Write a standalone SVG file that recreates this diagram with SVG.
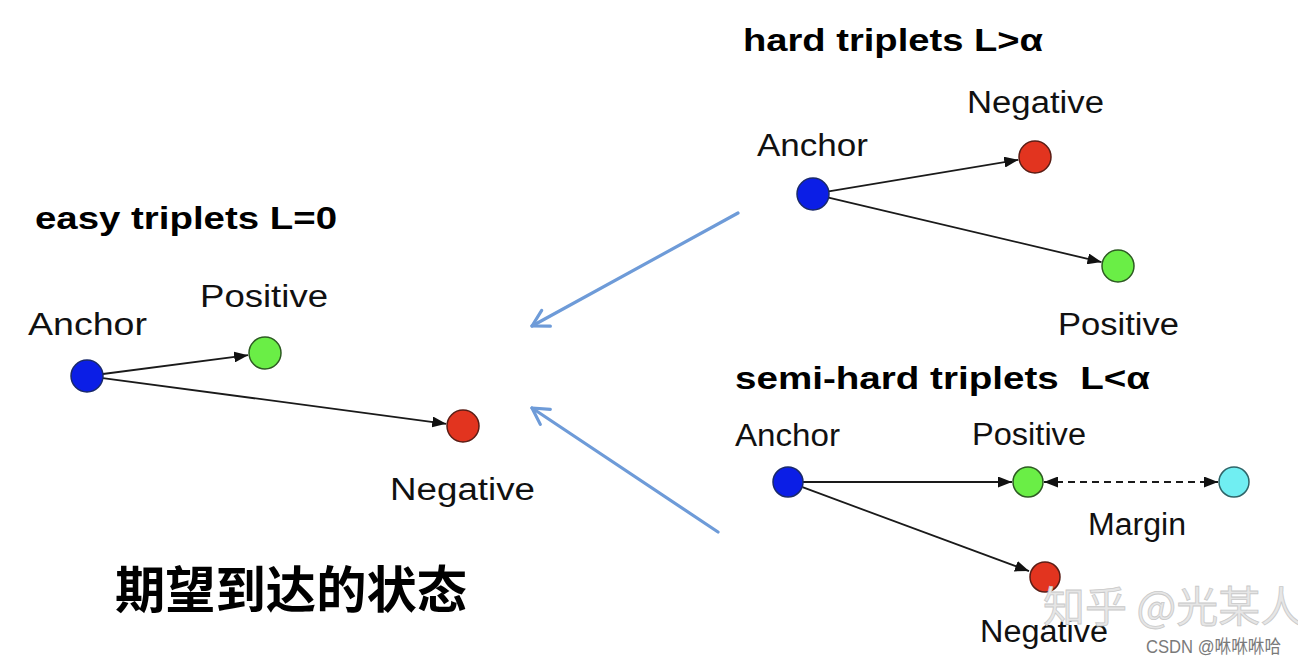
<svg xmlns="http://www.w3.org/2000/svg" width="1298" height="666" viewBox="0 0 1298 666">
  <style>
    .title { font-family: "Liberation Sans", Arial, sans-serif; font-weight: bold; font-size: 31px; fill: #000; }
    .lbl { font-family: "Liberation Sans", Arial, sans-serif; font-size: 31px; fill: #111; }
    .edge { stroke: #1a1a1a; stroke-width: 1.8; fill: none; marker-end: url(#ah); }
    .dash { stroke: #1a1a1a; stroke-width: 1.8; fill: none; stroke-dasharray: 7 5; marker-start: url(#ah); marker-end: url(#ah); }
    .flow { stroke: #6e9bd8; stroke-width: 3.2; fill: none; stroke-linecap: round; marker-end: url(#open); }
    .anchor { fill: #0b1ee6; stroke: #1a2a6a; stroke-width: 1.5; }
    .pos { fill: #6aee46; stroke: #2d5a22; stroke-width: 1.5; }
    .neg { fill: #e2341f; stroke: #5a1d15; stroke-width: 1.5; }
    .mar { fill: #70eef2; stroke: #2f6468; stroke-width: 1.5; }
    .cjk { font-family: "Noto Sans CJK SC", "Noto Sans", sans-serif; font-weight: bold; font-size: 50px; fill: #000; }
    .wm { font-family: "Noto Sans CJK SC", sans-serif; font-size: 42px; fill: #e6e6e6; stroke: #c9c9c9; stroke-width: 0.8; }
    .csdn { font-family: "Liberation Sans", "Noto Sans CJK SC", sans-serif; font-size: 18px; fill: #7a7a7a; }
  </style>
  <defs>
    <marker id="ah" markerUnits="userSpaceOnUse" markerWidth="15" markerHeight="11" refX="14" refY="5.5" orient="auto-start-reverse">
      <path d="M0,0 L14,5.5 L0,11 z" fill="#111"/>
    </marker>
    <marker id="open" markerUnits="userSpaceOnUse" markerWidth="24" markerHeight="24" refX="19" refY="11" orient="auto" overflow="visible">
      <path d="M3,2 L19,11 L3,20" fill="none" stroke="#6e9bd8" stroke-width="3.2" stroke-linecap="round" stroke-linejoin="round"/>
    </marker>
  </defs>
  <rect width="1298" height="666" fill="#ffffff"/>

  <g id="connectors">
    <line class="edge" x1="102.9" y1="374" x2="248.1" y2="355.2"/>
    <line class="edge" x1="102.9" y1="378.1" x2="446.2" y2="423.8"/>
    <line class="edge" x1="828.8" y1="191.4" x2="1018.2" y2="159.8"/>
    <line class="edge" x1="828.6" y1="197.7" x2="1101.5" y2="262.1"/>
    <line class="edge" x1="803" y1="482" x2="1012" y2="482"/>
    <line class="edge" x1="802.5" y1="487.2" x2="1029" y2="571.1"/>
    <line class="dash" x1="1044" y1="482" x2="1218" y2="482"/>
    <line class="flow" x1="738" y1="213" x2="532" y2="326"/>
    <line class="flow" x1="718" y1="532" x2="532" y2="408"/>
  </g>

  <g id="easy-title"><text class="title" x="35" y="229" textLength="302" lengthAdjust="spacingAndGlyphs">easy triplets L=0</text></g>
  <g id="easy-anchor">
    <circle class="anchor" cx="87" cy="376" r="16"/>
    <text class="lbl" x="28" y="335" font-size="32" textLength="119" lengthAdjust="spacingAndGlyphs">Anchor</text>
  </g>
  <g id="easy-positive">
    <circle class="pos" cx="265" cy="353" r="16"/>
    <text class="lbl" x="200" y="307" font-size="32" textLength="128" lengthAdjust="spacingAndGlyphs">Positive</text>
  </g>
  <g id="easy-negative">
    <circle class="neg" cx="463" cy="426" r="16"/>
    <text class="lbl" x="390" y="500" font-size="32" textLength="145" lengthAdjust="spacingAndGlyphs">Negative</text>
  </g>

  <g id="hard-title"><text class="title" x="743" y="51" textLength="300" lengthAdjust="spacingAndGlyphs">hard triplets L&gt;α</text></g>
  <g id="hard-anchor">
    <circle class="anchor" cx="813" cy="194" r="16"/>
    <text class="lbl" x="757" y="156" textLength="111" lengthAdjust="spacingAndGlyphs">Anchor</text>
  </g>
  <g id="hard-negative">
    <circle class="neg" cx="1035" cy="157" r="16"/>
    <text class="lbl" x="967" y="113" textLength="137" lengthAdjust="spacingAndGlyphs">Negative</text>
  </g>
  <g id="hard-positive">
    <circle class="pos" cx="1118" cy="266" r="16"/>
    <text class="lbl" x="1058" y="335" textLength="121" lengthAdjust="spacingAndGlyphs">Positive</text>
  </g>

  <g id="semi-title"><text class="title" x="735" y="389" textLength="415" lengthAdjust="spacingAndGlyphs">semi-hard triplets&#160; L&lt;α</text></g>
  <g id="semi-anchor">
    <circle class="anchor" cx="788" cy="482" r="15"/>
    <text class="lbl" x="735" y="446" font-size="30" textLength="105" lengthAdjust="spacingAndGlyphs">Anchor</text>
  </g>
  <g id="semi-positive">
    <circle class="pos" cx="1028" cy="482" r="15"/>
    <text class="lbl" x="972" y="445" font-size="30" textLength="114" lengthAdjust="spacingAndGlyphs">Positive</text>
  </g>
  <g id="semi-margin">
    <circle class="mar" cx="1234" cy="482" r="15"/>
    <text class="lbl" x="1088" y="535" font-size="30" textLength="98" lengthAdjust="spacingAndGlyphs">Margin</text>
  </g>
  <g id="semi-negative">
    <circle class="neg" cx="1045" cy="577" r="15"/>
    <text class="lbl" x="980" y="642" font-size="30" textLength="128" lengthAdjust="spacingAndGlyphs">Negative</text>
  </g>

  <g id="caption"><text class="cjk" x="115" y="608" textLength="352" lengthAdjust="spacingAndGlyphs">期望到达的状态</text></g>
  <g id="watermark">
    <text class="wm" x="1043" y="622">知乎 @光某人</text>
    <text class="csdn" x="1146" y="653" textLength="135" lengthAdjust="spacingAndGlyphs">CSDN @咻咻咻哈</text>
  </g>
</svg>
